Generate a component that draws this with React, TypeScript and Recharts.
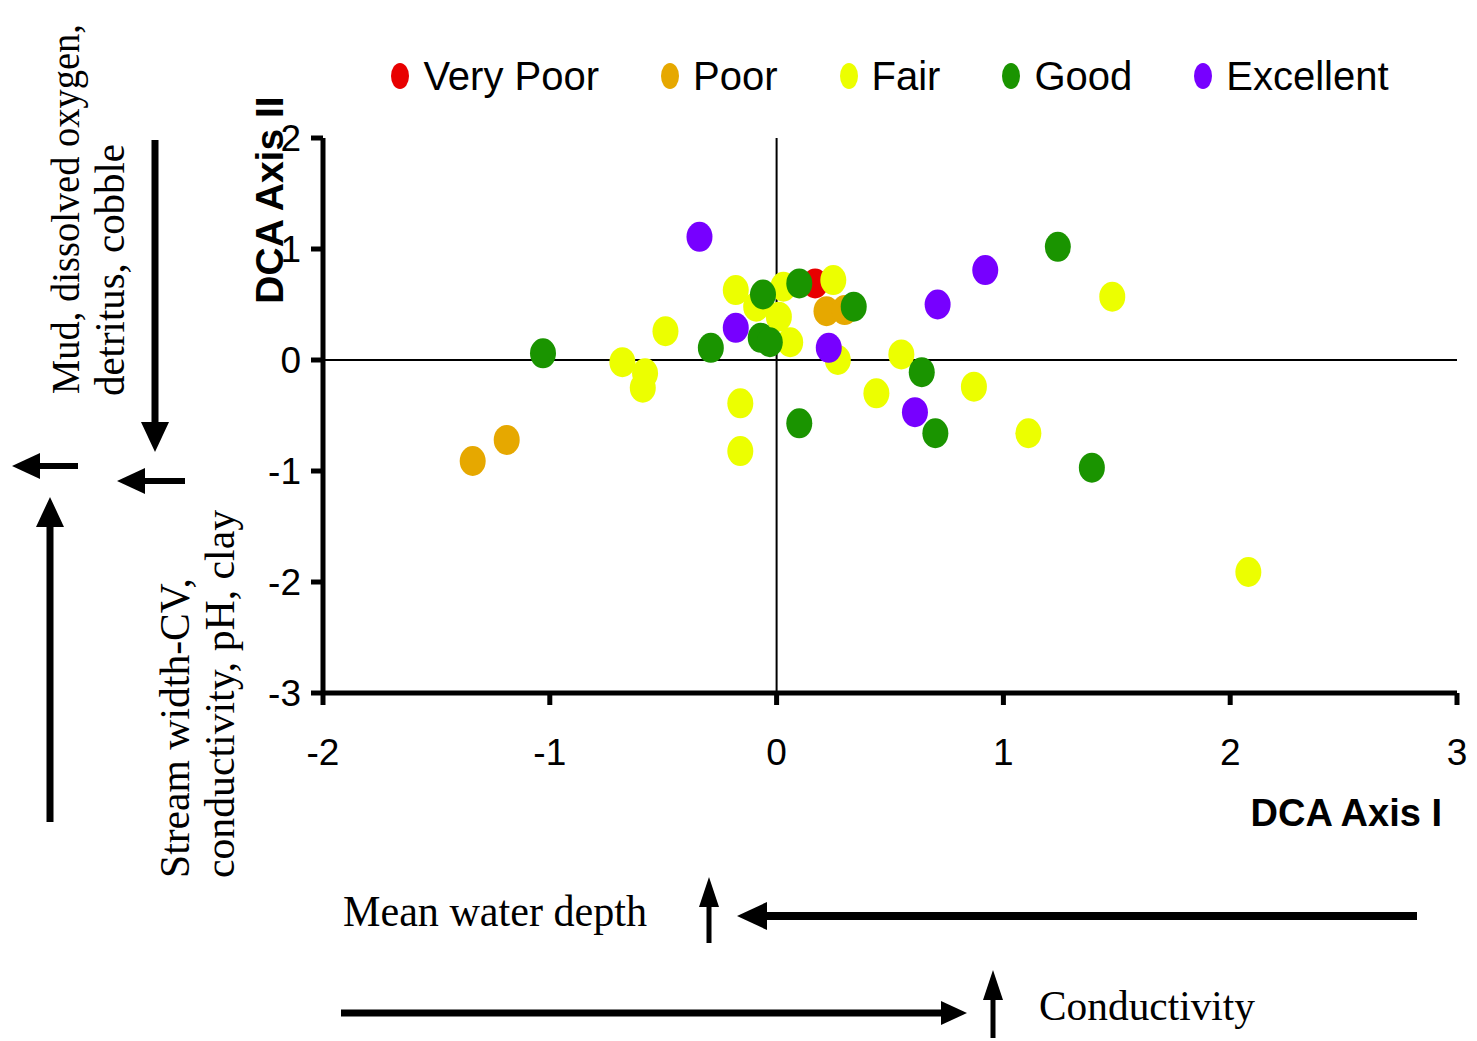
import React from 'react'
import { ScatterChart, Scatter, XAxis, YAxis, ReferenceLine, Legend, Label } from 'recharts'

// class names shown in the legend
const categories = ['Very Poor', 'Poor', 'Fair', 'Good', 'Excellent']

const xTicks = [-2, -1, 0, 1, 2, 3]
const yTicks = [-3, -2, -1, 0, 1, 2]

// site scores on DCA axes
const veryPoor = [{ x: 0.17, y: 0.69 }]

const poor = [
  { x: 0.22, y: 0.44 },
  { x: 0.3, y: 0.45 },
  { x: -1.19, y: -0.72 },
  { x: -1.34, y: -0.91 },
]

const fair = [
  { x: -0.18, y: 0.63 },
  { x: -0.09, y: 0.48 },
  { x: 0.03, y: 0.66 },
  { x: 0.25, y: 0.72 },
  { x: 0.01, y: 0.39 },
  { x: 0.06, y: 0.16 },
  { x: -0.49, y: 0.26 },
  { x: 0.27, y: 0.0 },
  { x: 0.55, y: 0.05 },
  { x: -0.68, y: -0.02 },
  { x: -0.58, y: -0.12 },
  { x: -0.59, y: -0.25 },
  { x: -0.16, y: -0.39 },
  { x: -0.16, y: -0.82 },
  { x: 0.44, y: -0.3 },
  { x: 0.87, y: -0.24 },
  { x: 1.11, y: -0.66 },
  { x: 1.48, y: 0.57 },
  { x: 2.08, y: -1.91 },
]

const good = [
  { x: -0.06, y: 0.59 },
  { x: 0.1, y: 0.69 },
  { x: 0.34, y: 0.48 },
  { x: -0.07, y: 0.2 },
  { x: -0.03, y: 0.16 },
  { x: -0.29, y: 0.11 },
  { x: -1.03, y: 0.06 },
  { x: 1.24, y: 1.02 },
  { x: 0.64, y: -0.11 },
  { x: 0.7, y: -0.66 },
  { x: 1.39, y: -0.97 },
  { x: 0.1, y: -0.57 },
]

const excellent = [
  { x: -0.34, y: 1.11 },
  { x: -0.18, y: 0.29 },
  { x: 0.23, y: 0.11 },
  { x: 0.92, y: 0.81 },
  { x: 0.71, y: 0.5 },
  { x: 0.61, y: -0.47 },
]

const seriesData = [veryPoor, poor, fair, good, excellent]
const colors = ['#e80000', '#e6a800', '#ecff00', '#1a9400', '#7700ff']

const SANS = '"Liberation Sans", Arial, sans-serif'
const SERIF = '"Liberation Serif", "Times New Roman", serif'

function dot(color: string) {
  return (p: any) => <ellipse cx={p.cx} cy={p.cy} rx={13} ry={15} fill={color} />
}

function Arrow({ x1, y1, x2, y2, w, hl, hw }: any) {
  // line from (x1,y1) to a filled head whose tip is at (x2,y2)
  const len = Math.hypot(x2 - x1, y2 - y1)
  const ux = (x2 - x1) / len
  const uy = (y2 - y1) / len
  const bx = x2 - ux * hl
  const by = y2 - uy * hl
  const px = -uy * (hw / 2)
  const py = ux * (hw / 2)
  return (
    <g>
      <line x1={x1} y1={y1} x2={bx + ux * 2} y2={by + uy * 2} stroke="#000" strokeWidth={w} />
      <polygon points={`${x2},${y2} ${bx + px},${by + py} ${bx - px},${by - py}`} fill="#000" />
    </g>
  )
}

function LegendContent({ payload }: any) {
  const items = [...(payload || [])].sort(
    (a: any, b: any) => categories.indexOf(a.value) - categories.indexOf(b.value)
  )
  return (
    <div style={{ display: 'flex', justifyContent: 'center', height: 48, alignItems: 'center' }}>
      {items.map((e: any, i: number) => (
        <div key={e.value} style={{ display: 'flex', alignItems: 'center', marginLeft: i === 0 ? 0 : 62 }}>
          <svg width={18} height={26}>
            <ellipse cx={9} cy={13} rx={9} ry={13} fill={e.color} />
          </svg>
          <span style={{ fontFamily: SANS, fontSize: 40, color: '#000', marginLeft: 14, lineHeight: '48px' }}>
            {e.value}
          </span>
        </div>
      ))}
    </div>
  )
}

export default function App() {
  const tickStyle = { fill: '#000', fontSize: 37, fontFamily: SANS }
  return (
    <div style={{ position: 'absolute', left: 0, top: 0, width: 1477, height: 1041, background: '#fff' }}>
      <ScatterChart width={1477} height={1041} margin={{ top: 138, right: 20, bottom: 288, left: 243 }}>
        <XAxis
          type="number"
          dataKey="x"
          domain={[-2, 3]}
          ticks={xTicks}
          allowDataOverflow
          height={60}
          tick={tickStyle}
          tickSize={12}
          tickMargin={34}
          axisLine={{ stroke: '#000', strokeWidth: 5 }}
          tickLine={{ stroke: '#000', strokeWidth: 5 }}
        >
          <Label
            content={(p: any) => (
              <text
                x={p.viewBox.x + p.viewBox.width - 15}
                y={p.viewBox.y + 133}
                textAnchor="end"
                fontFamily={SANS}
                fontWeight="bold"
                fontSize={38}
                fill="#000"
              >
                DCA Axis I
              </text>
            )}
          />
        </XAxis>
        <YAxis
          type="number"
          dataKey="y"
          domain={[-3, 2]}
          ticks={yTicks}
          allowDataOverflow
          width={80}
          tick={tickStyle}
          tickSize={12}
          tickMargin={10}
          axisLine={{ stroke: '#000', strokeWidth: 5 }}
          tickLine={{ stroke: '#000', strokeWidth: 5 }}
        >
          <Label
            content={(p: any) => {
              const x = p.viewBox.x + 40
              const y = p.viewBox.y + 62
              return (
                <text
                  x={x}
                  y={y}
                  transform={`rotate(-90, ${x}, ${y})`}
                  textAnchor="middle"
                  fontFamily={SANS}
                  fontWeight="bold"
                  fontSize={39}
                  fill="#000"
                >
                  DCA Axis II
                </text>
              )
            }}
          />
        </YAxis>
        <ReferenceLine x={0} stroke="#000" strokeWidth={2} />
        <ReferenceLine y={0} stroke="#000" strokeWidth={2} />
        <Legend
          verticalAlign="middle"
          align="center"
          layout="horizontal"
          wrapperStyle={{ top: 52, left: 323, width: 1134 }}
          content={LegendContent}
        />
        {seriesData.map((d, i) => (
          <Scatter
            key={categories[i]}
            name={categories[i]}
            data={d}
            fill={colors[i]}
            shape={dot(colors[i])}
            isAnimationActive={false}
          />
        ))}
      </ScatterChart>

      <svg
        width={1477}
        height={1041}
        style={{ position: 'absolute', left: 0, top: 0, pointerEvents: 'none' }}
      >
        <g fontFamily={SERIF} fontSize={42} fill="#000">
          <text
            x={79}
            y={394}
            fontSize={40}
            transform="rotate(-90, 79, 394)"
            textLength={370}
            lengthAdjust="spacingAndGlyphs"
          >
            Mud, dissolved oxygen,
          </text>
          <text x={124} y={396} transform="rotate(-90, 124, 396)" textLength={252} lengthAdjust="spacingAndGlyphs">
            detritus, cobble
          </text>
          <text x={189} y={878} transform="rotate(-90, 189, 878)" textLength={300} lengthAdjust="spacingAndGlyphs">
            Stream width-CV,
          </text>
          <text x={234} y={878} transform="rotate(-90, 234, 878)" textLength={368} lengthAdjust="spacingAndGlyphs">
            conductivity, pH, clay
          </text>
          <text x={343} y={926} fontSize={44} textLength={304} lengthAdjust="spacingAndGlyphs">
            Mean water depth
          </text>
          <text x={1039} y={1020} textLength={216} lengthAdjust="spacingAndGlyphs">
            Conductivity
          </text>
        </g>
        <Arrow x1={155} y1={140} x2={155} y2={452} w={7} hl={30} hw={28} />
        <Arrow x1={185} y1={481} x2={117} y2={481} w={6} hl={28} hw={26} />
        <Arrow x1={78} y1={466} x2={12} y2={466} w={6} hl={28} hw={26} />
        <Arrow x1={50} y1={822} x2={50} y2={497} w={7} hl={30} hw={28} />
        <Arrow x1={709} y1={943} x2={709} y2={877} w={5} hl={30} hw={20} />
        <Arrow x1={1417} y1={916} x2={737} y2={916} w={8} hl={30} hw={28} />
        <Arrow x1={341} y1={1013} x2={967} y2={1013} w={7} hl={26} hw={24} />
        <Arrow x1={993} y1={1038} x2={993} y2={970} w={5} hl={30} hw={20} />
      </svg>
    </div>
  )
}
